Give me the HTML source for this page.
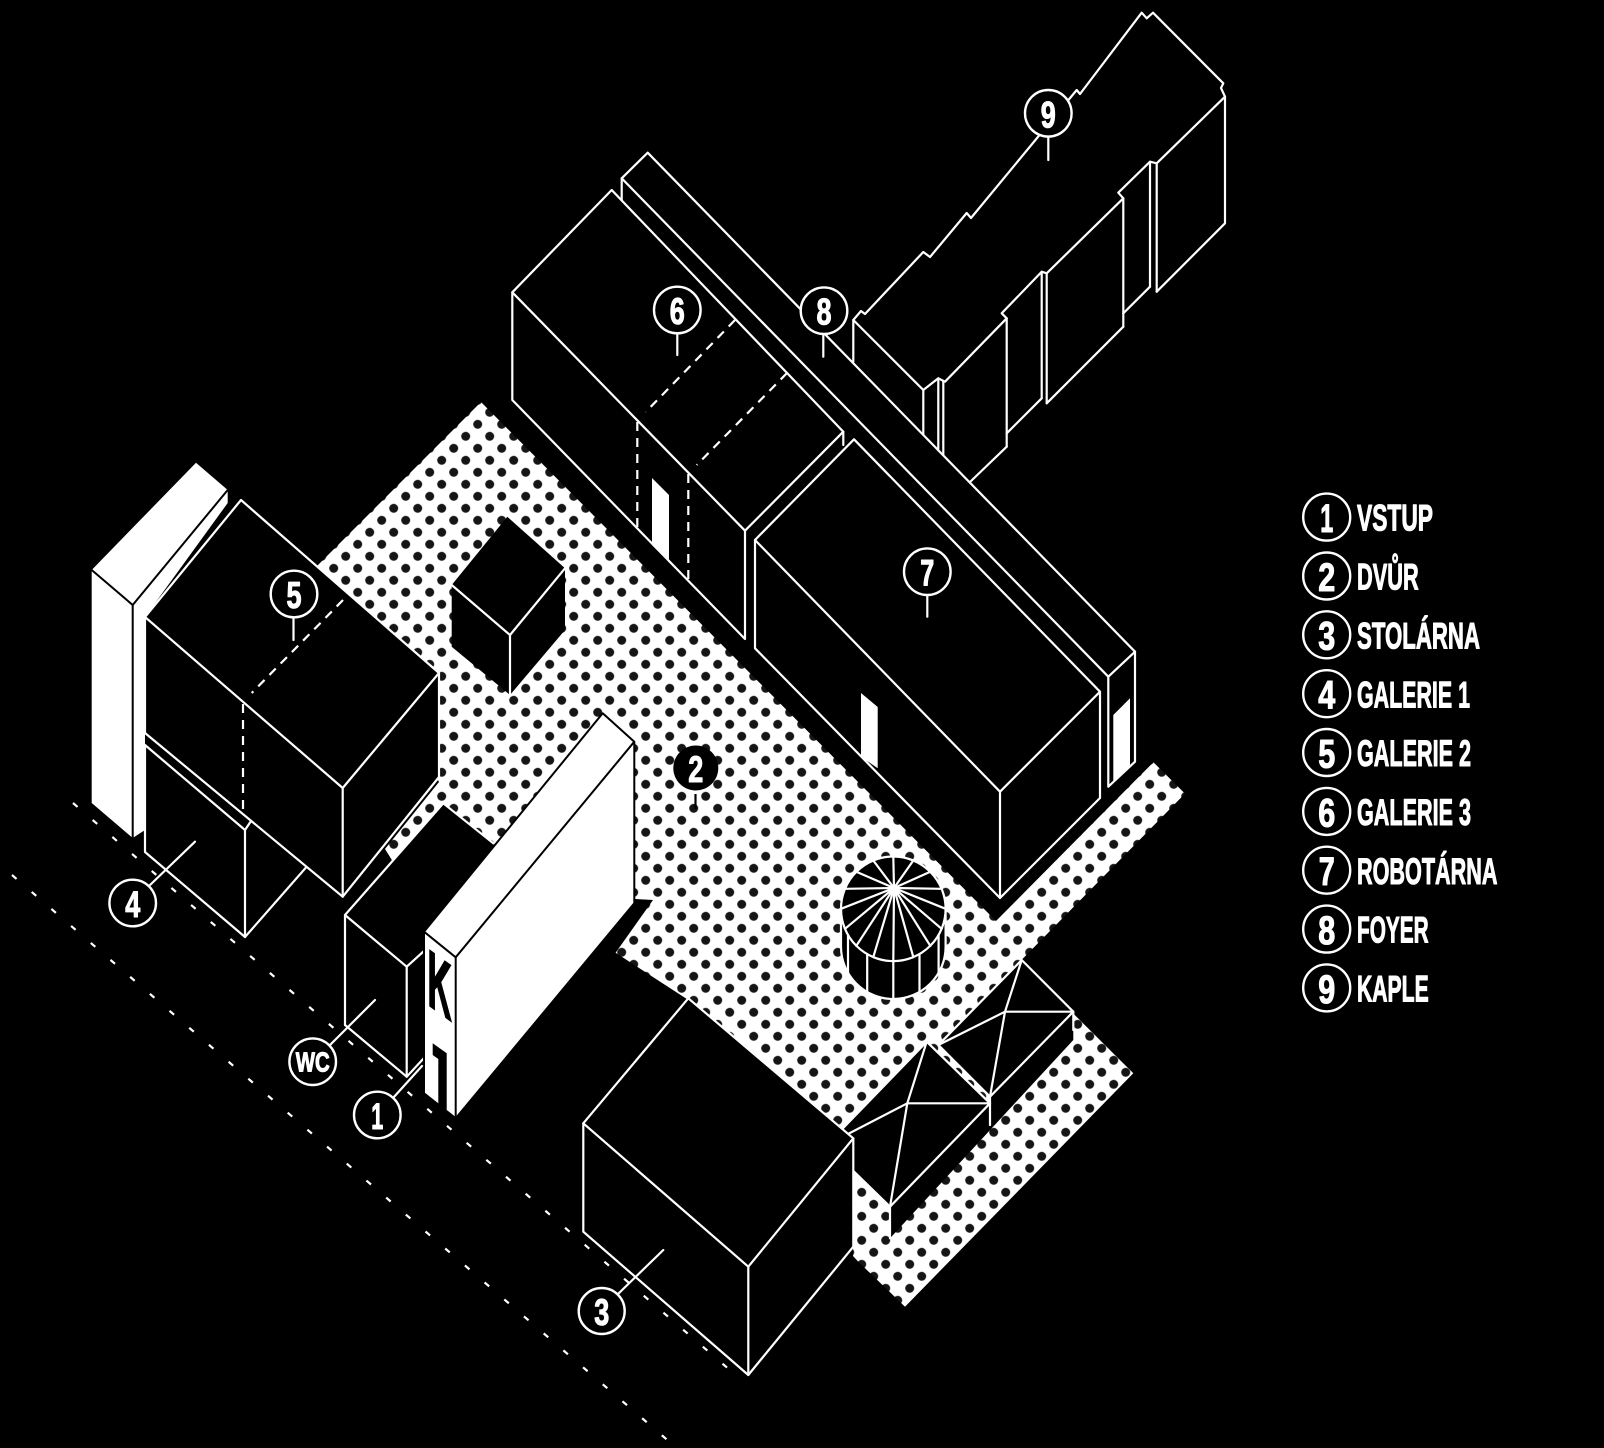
<!DOCTYPE html>
<html><head><meta charset="utf-8"><style>
html,body{margin:0;padding:0;background:#000;}
svg{display:block;}
.w{fill:none;stroke:#fff;stroke-width:2.2;stroke-linejoin:round;stroke-linecap:round;}
.b{fill:#000;}
.k{fill:none;stroke:#000;stroke-width:2;stroke-linejoin:round;}
.d{fill:none;stroke:#fff;stroke-width:2.2;stroke-dasharray:9 7;}
.st{fill:none;stroke:#fff;stroke-width:2.2;stroke-dasharray:6 20;}
.lab{fill:#000;stroke:#fff;stroke-width:2.4;}
.t{font-family:"Liberation Sans",sans-serif;font-weight:bold;fill:#fff;stroke:#fff;stroke-width:1.1;stroke-linejoin:round;}
</style></head><body>
<svg width="1604" height="1448" viewBox="0 0 1604 1448" xmlns="http://www.w3.org/2000/svg">
<defs>
<pattern id="dots" patternUnits="userSpaceOnUse" width="24" height="24" x="9.7" y="4.3">
<rect width="24" height="24" fill="#fff"/>
<circle cx="0" cy="0" r="4.5" fill="#151515"/><circle cx="24" cy="0" r="4.5" fill="#151515"/>
<circle cx="0" cy="24" r="4.5" fill="#151515"/><circle cx="24" cy="24" r="4.5" fill="#151515"/>
<circle cx="12" cy="12" r="4.5" fill="#151515"/>
</pattern>
</defs>
<rect width="1604" height="1448" fill="#000"/>

<!-- street dashed lines -->
<line class="st" x1="73" y1="803" x2="731" y2="1371"/>
<line class="st" x1="12" y1="875" x2="672" y2="1444"/>

<!-- dotted ground -->
<polygon fill="url(#dots)" points="481,402 996,921 1153.4,762.2 1185,793.6 1020.5,961 1133.3,1073.3 905,1306.7 858.3,1261.7 853,1256 853,1138 686.8,999 615.6,952.7 653,900 635,899 560,870 470,930 420,905 385,849 439,782 317,566"/>

<!-- building 9 (KAPLE) -->
<polygon class="b" points="853.3,320 1141.7,12.7 1146.7,18.3 1153,12.7 1223.3,83.3 1225,96.7 1225,223.3 1156.7,291.7 1150,286.7 1123.3,313.3 1123.3,326.7 1046.7,403.3 1041.7,398.3 1006.7,433.3 1006.7,446.7 970,482 853.3,361.7"/>
<polyline class="w" points="853.3,361.7 853.3,320 861,311 865,314 923.3,252 930,257 966.7,213 971,218 1076.7,90 1080,94 1141.7,12.7 1146.7,18.3 1153,12.7 1223.3,83.3 1221,88 1225,96.7 1225,223.3 1156.7,291.7"/>
<polyline class="w" points="1225,96.7 1156.7,163.3 1150,161.7 1118.3,192.7 1123.3,198.3 1046.7,273.3 1041.7,271.7 1001.7,313.3 1006.7,318.3 945,381.7 938.3,378.3 923.3,390 853.3,320"/>
<line class="w" x1="1156.7" y1="163.3" x2="1156.7" y2="291.7"/>
<line class="w" x1="1150" y1="161.7" x2="1150" y2="286.7"/>
<line class="w" x1="1123.3" y1="198.3" x2="1123.3" y2="326.7"/>
<line class="w" x1="1046.7" y1="273.3" x2="1046.7" y2="403.3"/>
<line class="w" x1="1041.7" y1="271.7" x2="1041.7" y2="398.3"/>
<line class="w" x1="1006.7" y1="318.3" x2="1006.7" y2="446.7"/>
<line class="w" x1="943.3" y1="381.7" x2="943.3" y2="455"/>
<line class="w" x1="938.3" y1="378.3" x2="938.3" y2="449"/>
<line class="w" x1="923.3" y1="390" x2="923.3" y2="436.7"/>
<line class="w" x1="1150" y1="286.7" x2="1123.3" y2="313.3"/>
<line class="w" x1="1123.3" y1="326.7" x2="1046.7" y2="403.3"/>
<line class="w" x1="1041.7" y1="398.3" x2="1006.7" y2="433.3"/>
<line class="w" x1="1006.7" y1="446.7" x2="970" y2="482"/>

<!-- foyer 8 -->
<polygon class="b" points="621.7,178.3 647.7,152.7 1135,651.7 1135,761.7 1108.3,786.7 621.7,290"/>
<polygon class="w" points="647.7,152.7 1135,651.7 1108.3,676.7 621.7,178.3"/>
<line class="w" x1="621.7" y1="178.3" x2="621.7" y2="205"/>
<polyline class="w" points="1108.3,676.7 1108.3,786.7 1135,761.7 1135,651.7"/>
<polygon fill="#fff" points="1113.3,715 1130,698.3 1130,765 1113.3,783.3"/>

<!-- building 6 -->
<polygon class="b" points="611.7,190 843.3,431.7 843.3,540 745,639 512.3,400 512.3,292.3"/>
<polygon class="w" points="611.7,190 843.3,431.7 745,530.7 512.3,292.3"/>
<polyline class="w" points="512.3,292.3 512.3,400 745,639 745,530.7"/>
<line class="w" x1="843.3" y1="431.7" x2="843.3" y2="445"/>
<line class="d" x1="735" y1="320" x2="645.7" y2="412"/>
<line class="d" x1="787" y1="373" x2="696.7" y2="465"/>
<line class="d" x1="637.3" y1="422" x2="637.3" y2="528"/>
<line class="d" x1="688.3" y1="474" x2="688.3" y2="580"/>
<polygon fill="#fff" points="652,478 669,495 669,562 652,545"/>

<!-- building 7 -->
<polygon class="b" points="854,439.3 1100,691.7 1100,798 1000,898 755,648.3 755,540"/>
<polygon class="w" points="854,439.3 1100,691.7 1000,791.7 755,540"/>
<polyline class="w" points="755,540 755,648.3 1000,898 1100,798 1100,691.7"/>
<line class="w" x1="1000" y1="791.7" x2="1000" y2="898"/>
<polygon fill="#fff" points="861,693 877.7,707 877.7,768.3 861,756.7"/>

<!-- small cube -->
<polygon class="b" points="507.3,516.7 565,568.3 565,630 510,695 451.7,646.7 451.7,585"/>
<polyline class="w" points="451.7,585 510,635 565,568.3"/>
<line class="w" x1="510" y1="635" x2="510" y2="695"/>

<!-- white wall left -->
<polygon fill="#fff" points="91.7,570 196,462.7 227.7,490 227.7,503 145,617 145,830 132.7,838 91.7,803"/>
<polyline class="k" points="91.7,570 132.7,605 227.7,490"/>
<line class="k" x1="132.7" y1="605" x2="132.7" y2="838"/>

<!-- building 4 -->
<polygon class="b" points="145,745 147,733 251.7,820 306.7,866.7 245,937 145,852"/>
<polyline class="w" points="145,745 245,830 245,937 145,852 145,745"/>
<line class="w" x1="245" y1="830" x2="251.7" y2="820"/>
<line class="w" x1="306.7" y1="866.7" x2="245" y2="937"/>

<!-- building 5 -->
<polygon class="b" points="145,617 241,500 439,673 439,777 342.7,896.7 147,733"/>
<polygon class="w" points="145,617 241,500 439,673 342.7,788"/>
<polyline class="w" points="145,617 145,733 342.7,896.7 439,777 439,673"/>
<line class="w" x1="342.7" y1="788" x2="342.7" y2="896.7"/>
<line class="d" x1="343" y1="600" x2="251.7" y2="693"/>
<line class="d" x1="243" y1="704" x2="243" y2="810"/>

<!-- WC -->
<polygon class="b" points="345,915 443.3,803.3 510,857 424,960 424,1060 406.7,1076.7 345,1025"/>
<line class="w" x1="345" y1="915" x2="443.3" y2="803.3"/>
<line class="w" x1="443.3" y1="803.3" x2="493.3" y2="843.3"/>
<polyline class="w" points="424,951 406.7,966.7 345,915 345,1025 406.7,1076.7 424,1058"/>
<line class="w" x1="406.7" y1="966.7" x2="406.7" y2="1076.7"/>

<!-- K wall -->
<polygon fill="#fff" stroke="#000" stroke-width="2" stroke-linejoin="round" points="424,931.7 602.7,713.3 634.3,741.7 634.3,903.3 455.7,1118.3 424,1093.3"/>
<polyline class="k" points="424,931.7 455.7,957.3 634.3,741.7"/>
<line class="k" x1="455.7" y1="957.3" x2="455.7" y2="1118.3"/>
<text transform="matrix(1,0.72,0,1,427.5,1004)" x="0" y="0" font-family="Liberation Sans, sans-serif" font-weight="bold" font-size="80" textLength="24" lengthAdjust="spacingAndGlyphs" fill="#000" stroke="#000" stroke-width="2.2">K</text>
<polygon fill="#000" points="432.7,1043.3 446.7,1053.3 446.7,1110 438.3,1104 438.3,1059 432.7,1055"/>

<!-- pyramids -->
<polygon class="b" points="1073.3,1011.7 1073.3,1040 890,1238.3 890,1206.7 990,1103.3 990,1096.7"/>
<line class="w" x1="990" y1="1096.7" x2="990" y2="1125"/>
<line class="w" x1="890" y1="1206.7" x2="890" y2="1238.3"/>
<line class="w" x1="1073.3" y1="1011.7" x2="1073.3" y2="1030"/>
<polygon class="b" points="1021.7,960 1073.3,1011.7 990,1096.7 938.4,1045"/>
<polygon class="w" points="1021.7,960 1073.3,1011.7 990,1096.7 938.4,1045"/>
<polyline class="w" points="1021.7,960 1005,1011.7 990,1096.7"/>
<polyline class="w" points="938.4,1045 1005,1011.7 1073.3,1011.7"/>
<polygon class="b" points="926.7,1041.7 990,1103.3 890,1206.7 826.7,1145"/>
<polygon class="w" points="926.7,1041.7 990,1103.3 890,1206.7 826.7,1145"/>
<polyline class="w" points="926.7,1041.7 907.3,1103.3 890,1206.7"/>
<polyline class="w" points="826.7,1145 907.3,1103.3 990,1103.3"/>

<!-- building 3 -->
<polygon class="b" points="688.3,998.3 853.3,1138.3 853.3,1246.7 748.3,1375 583.3,1231.7 583.3,1123.3"/>
<polygon class="w" points="688.3,998.3 853.3,1138.3 748.3,1266.7 583.3,1123.3"/>
<polyline class="w" points="583.3,1123.3 583.3,1231.7 748.3,1375 853.3,1246.7 853.3,1138.3"/>
<line class="w" x1="748.3" y1="1266.7" x2="748.3" y2="1375"/>

<!-- dome -->
<path class="b" d="M841,908.8 A52.3,52.3 0 0 1 945.6,908.8 L945.6,946.7 A52.3,52.3 0 0 1 841,946.7 Z"/>
<path class="w" d="M841,908.8 A52.3,52.3 0 0 1 945.6,908.8 L945.6,946.7 A52.3,52.3 0 0 1 841,946.7 Z"/>
<path class="w" d="M841,908.8 A52.3,52.3 0 0 0 945.6,908.8"/>
<g class="w">
<line x1="894" y1="888" x2="945.6" y2="908.8"/><line x1="894" y1="888" x2="941.6" y2="928.8"/>
<line x1="894" y1="888" x2="930.3" y2="945.8"/><line x1="894" y1="888" x2="913.3" y2="957.1"/>
<line x1="894" y1="888" x2="893.3" y2="961.1"/><line x1="894" y1="888" x2="873.3" y2="957.1"/>
<line x1="894" y1="888" x2="856.3" y2="945.8"/><line x1="894" y1="888" x2="845" y2="928.8"/>
<line x1="894" y1="888" x2="841" y2="908.8"/><line x1="894" y1="888" x2="845" y2="888.8"/>
<line x1="894" y1="888" x2="856.3" y2="871.8"/><line x1="894" y1="888" x2="873.3" y2="860.5"/>
<line x1="894" y1="888" x2="893.3" y2="856.5"/><line x1="894" y1="888" x2="913.3" y2="860.5"/>
<line x1="894" y1="888" x2="930.3" y2="871.8"/><line x1="894" y1="888" x2="941.6" y2="888.8"/>
<line x1="938.6" y1="935" x2="938.6" y2="972.9"/><line x1="919.5" y1="954.1" x2="919.5" y2="992"/>
<line x1="893.3" y1="961.1" x2="893.3" y2="999"/><line x1="867.2" y1="954.1" x2="867.2" y2="992"/>
<line x1="848" y1="935" x2="848" y2="972.9"/>
</g>

<!-- labels on diagram -->
<g>
<line class="w" x1="677.3" y1="333" x2="677.3" y2="355"/>
<circle class="lab" cx="677.3" cy="310" r="23.3"/>
<text class="t" x="677.3" y="324" font-size="37" text-anchor="middle" textLength="15" lengthAdjust="spacingAndGlyphs">6</text>

<line class="w" x1="823.3" y1="334" x2="823.3" y2="356.7"/>
<circle class="lab" cx="824" cy="310.7" r="23.3"/>
<text class="t" x="824" y="324.7" font-size="37" text-anchor="middle" textLength="15" lengthAdjust="spacingAndGlyphs">8</text>

<line class="w" x1="1048.3" y1="137" x2="1048.3" y2="160"/>
<circle class="lab" cx="1048.3" cy="113.3" r="23.3"/>
<text class="t" x="1048.3" y="127.3" font-size="37" text-anchor="middle" textLength="15" lengthAdjust="spacingAndGlyphs">9</text>

<line class="w" x1="927.3" y1="595" x2="927.3" y2="616.7"/>
<circle class="lab" cx="927.3" cy="571.7" r="23.3"/>
<text class="t" x="927.3" y="585.7" font-size="37" text-anchor="middle" textLength="14" lengthAdjust="spacingAndGlyphs">7</text>

<line class="w" x1="293.5" y1="617" x2="293.5" y2="640"/>
<circle class="lab" cx="294" cy="594" r="23.3"/>
<text class="t" x="294" y="608" font-size="37" text-anchor="middle" textLength="15" lengthAdjust="spacingAndGlyphs">5</text>

<line class="w" x1="149" y1="886" x2="195" y2="841.7"/>
<circle class="lab" cx="132.7" cy="903" r="23.3"/>
<text class="t" x="132.7" y="917" font-size="37" text-anchor="middle" textLength="15" lengthAdjust="spacingAndGlyphs">4</text>

<line class="w" x1="330" y1="1045" x2="375" y2="1000"/>
<circle class="lab" cx="312.7" cy="1061.7" r="23.3"/>
<text class="t" x="312.7" y="1071.5" font-size="28" text-anchor="middle" textLength="34" lengthAdjust="spacingAndGlyphs">WC</text>

<line class="w" x1="393" y1="1098" x2="422" y2="1066"/>
<circle class="lab" cx="377.3" cy="1115" r="23.3"/>
<text class="t" x="377.3" y="1129" font-size="37" text-anchor="middle" textLength="12" lengthAdjust="spacingAndGlyphs">1</text>

<line class="w" x1="618" y1="1294" x2="663.3" y2="1250"/>
<circle class="lab" cx="601.7" cy="1311" r="23"/>
<text class="t" x="601.7" y="1325" font-size="37" text-anchor="middle" textLength="15" lengthAdjust="spacingAndGlyphs">3</text>

<line x1="695.5" y1="794" x2="695.5" y2="809" stroke="#000" stroke-width="2.2"/>
<circle cx="695.8" cy="768" r="22.5" fill="#000"/>
<text class="t" x="695.8" y="782" font-size="37" text-anchor="middle" textLength="15" lengthAdjust="spacingAndGlyphs">2</text>
</g>

<!-- legend -->
<g>
<circle class="lab" cx="1326.7" cy="517.1" r="23.5"/>
<text class="t" x="1326.7" y="532" font-size="40" text-anchor="middle" textLength="13" lengthAdjust="spacingAndGlyphs">1</text>
<text class="t" x="1357" y="530.7" font-size="37" textLength="76" lengthAdjust="spacingAndGlyphs">VSTUP</text>

<circle class="lab" cx="1326.7" cy="576" r="23.5"/>
<text class="t" x="1326.7" y="590.9" font-size="40" text-anchor="middle" textLength="17" lengthAdjust="spacingAndGlyphs">2</text>
<text class="t" x="1357" y="589.6" font-size="37" textLength="61.7" lengthAdjust="spacingAndGlyphs">DVŮR</text>

<circle class="lab" cx="1326.7" cy="634.8" r="23.5"/>
<text class="t" x="1326.7" y="649.7" font-size="40" text-anchor="middle" textLength="17" lengthAdjust="spacingAndGlyphs">3</text>
<text class="t" x="1357" y="648.4" font-size="37" textLength="123" lengthAdjust="spacingAndGlyphs">STOLÁRNA</text>

<circle class="lab" cx="1326.7" cy="693.7" r="23.5"/>
<text class="t" x="1326.7" y="708.6" font-size="40" text-anchor="middle" textLength="17" lengthAdjust="spacingAndGlyphs">4</text>
<text class="t" x="1357" y="707.3" font-size="37" textLength="113" lengthAdjust="spacingAndGlyphs">GALERIE 1</text>

<circle class="lab" cx="1326.7" cy="752.5" r="23.5"/>
<text class="t" x="1326.7" y="767.4" font-size="40" text-anchor="middle" textLength="17" lengthAdjust="spacingAndGlyphs">5</text>
<text class="t" x="1357" y="766.1" font-size="37" textLength="114" lengthAdjust="spacingAndGlyphs">GALERIE 2</text>

<circle class="lab" cx="1326.7" cy="811.4" r="23.5"/>
<text class="t" x="1326.7" y="826.3" font-size="40" text-anchor="middle" textLength="17" lengthAdjust="spacingAndGlyphs">6</text>
<text class="t" x="1357" y="825" font-size="37" textLength="114" lengthAdjust="spacingAndGlyphs">GALERIE 3</text>

<circle class="lab" cx="1326.7" cy="870.2" r="23.5"/>
<text class="t" x="1326.7" y="885.1" font-size="40" text-anchor="middle" textLength="16" lengthAdjust="spacingAndGlyphs">7</text>
<text class="t" x="1357" y="883.8" font-size="37" textLength="140.5" lengthAdjust="spacingAndGlyphs">ROBOTÁRNA</text>

<circle class="lab" cx="1326.7" cy="929.1" r="23.5"/>
<text class="t" x="1326.7" y="944" font-size="40" text-anchor="middle" textLength="17" lengthAdjust="spacingAndGlyphs">8</text>
<text class="t" x="1357" y="942.7" font-size="37" textLength="71.7" lengthAdjust="spacingAndGlyphs">FOYER</text>

<circle class="lab" cx="1326.7" cy="987.9" r="23.5"/>
<text class="t" x="1326.7" y="1002.8" font-size="40" text-anchor="middle" textLength="17" lengthAdjust="spacingAndGlyphs">9</text>
<text class="t" x="1357" y="1001.5" font-size="37" textLength="71.7" lengthAdjust="spacingAndGlyphs">KAPLE</text>
</g>
</svg>
</body></html>
